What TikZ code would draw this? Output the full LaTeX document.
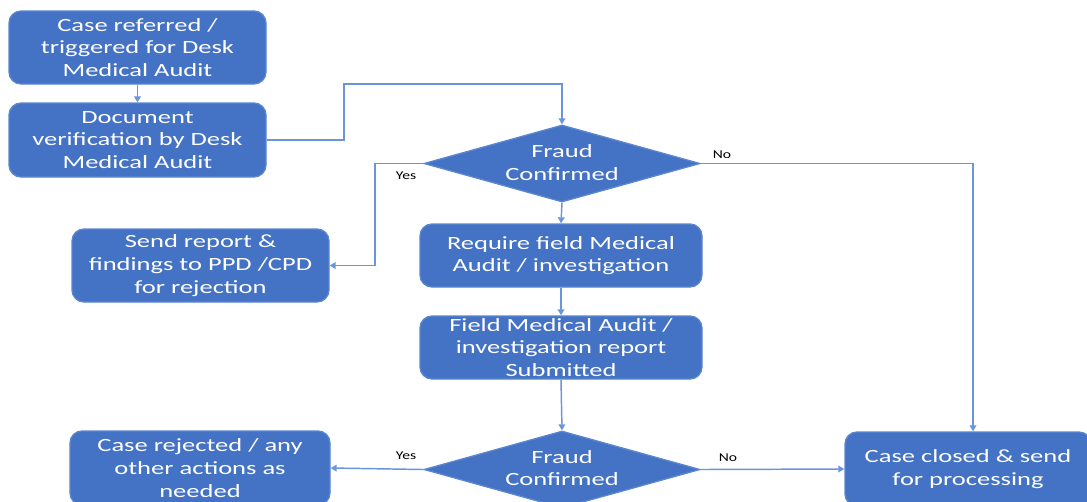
\documentclass[tikz,border=0pt]{standalone}
\usepackage{fontspec}
\setmainfont{Carlito}
\newfontfamily\boxfont[FakeStretch=1.42]{Carlito}
\newfontfamily\lblfont[FakeStretch=1.3]{Carlito}
\usetikzlibrary{shapes.geometric,arrows.meta}
\definecolor{boxblue}{HTML}{4472C4}
\definecolor{edgeblue}{HTML}{5B86D0}
\definecolor{lineblue}{HTML}{6B95DA}
\def\px{0.75pt}
\tikzset{
  procbox/.style={draw=edgeblue, line width=1pt, fill=boxblue, rounded corners=9pt, text=white,
    align=center, font=\boxfont\fontsize{14}{17}\selectfont, inner sep=0pt},
  decbox/.style={shape=diamond, draw=edgeblue, line width=1pt, fill=boxblue, inner sep=0pt},
  dectext/.style={text=white, align=center, font=\boxfont\fontsize{14}{17}\selectfont},
  conn/.style={draw=lineblue, line width=1.1pt, -{Triangle[width=5pt,length=4.5pt]}},
  lbl/.style={font=\lblfont\fontsize{9}{10}\selectfont, text=black, inner sep=0pt}
}
\begin{document}
\begin{tikzpicture}[x=0.75pt,y=-0.75pt]
\useasboundingbox[fill=white] (0,0) rectangle (1087,501);
\node[procbox, minimum width=257*\px, minimum height=73*\px] (A) at (137.5,47.5) {Case referred /\\triggered for Desk\\Medical Audit};
\node[procbox, minimum width=257*\px, minimum height=74*\px] (B) at (137.5,140) {Document\\verification by Desk\\Medical Audit};
\node[decbox, minimum width=276*\px, minimum height=77*\px] (D1) at (562,163.5) {};
\node[dectext] (D1t) at (562,162.5) {Fraud\\Confirmed};
\node[procbox, minimum width=257*\px, minimum height=73*\px] (C) at (200.5,265.5) {Send report \&\\findings to PPD /CPD\\for rejection};
\node[procbox, minimum width=282*\px, minimum height=63*\px] (D) at (561,255.5) {Require field Medical\\Audit / investigation};
\node[procbox, minimum width=282*\px, minimum height=63*\px] (E) at (561,347.5) {Field Medical Audit /\\investigation report\\Submitted};
\node[decbox, minimum width=276*\px, minimum height=77*\px] (D2) at (562,469.5) {};
\node[dectext] (D2t) at (562,468) {Fraud\\Confirmed};
\node[procbox, minimum width=260*\px, minimum height=74*\px] (G) at (200,468) {Case rejected / any\\other actions as\\needed};
\node[procbox, minimum width=246*\px, minimum height=74*\px] (F) at (968,469) {Case closed \& send\\for processing};
\coordinate (k1) at (344,84);
\coordinate (k2) at (375,163.5);
\coordinate (k3) at (973,163.5);
\draw[conn] (A.south) -- (B.north);
\draw[conn] (B.east) -| (k1) -| (D1.north);
\draw[conn] (D1.west) -- (k2) |- (C.east);
\draw[conn] (D1.east) -- (k3) -- (k3 |- F.north);
\draw[conn] (D1.south) -- (D.north);
\draw[conn] (D.south) -- (E.north);
\draw[conn] (E.south) -- (D2.north);
\draw[conn] (D2.west) -- (G.east);
\draw[conn] (D2.east) -- (F.west);
\node[lbl] (y1) at (406,176) {Yes};
\node[lbl] (n1) at (722,155) {No};
\node[lbl] (y2) at (406,456) {Yes};
\node[lbl] (n2) at (728,458) {No};
\end{tikzpicture}
\end{document}
